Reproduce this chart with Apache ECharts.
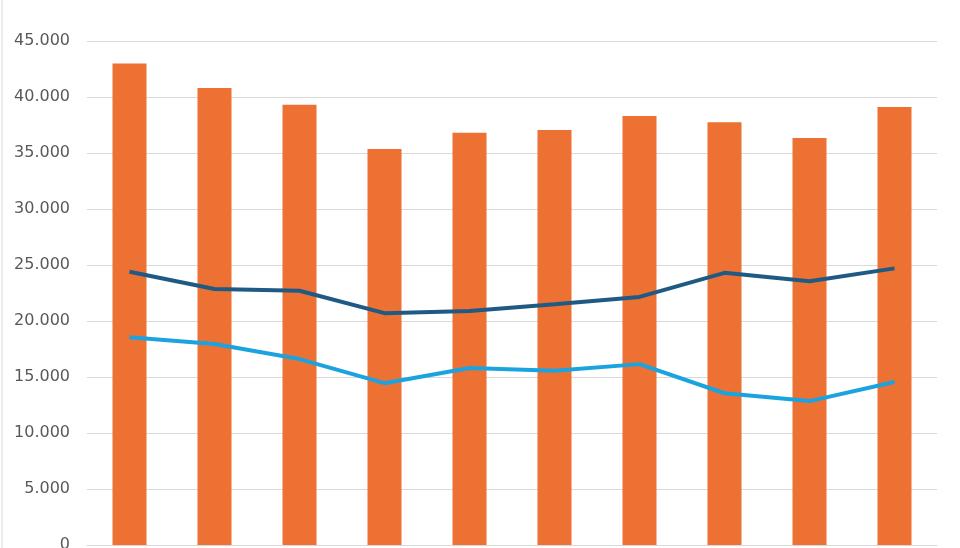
<!DOCTYPE html>
<html>
<head>
<meta charset="utf-8">
<script src="https://cdn.jsdelivr.net/npm/echarts@6/dist/echarts.min.js"></script>
<style>
  html, body { margin: 0; padding: 0; background: #fff; }
  #chart { width: 960px; height: 548px; }
</style>
</head>
<body>
<div id="chart"></div>
<script>
// categories (x labels are cut off in the reference)
const categories = ["1", "2", "3", "4", "5", "6", "7", "8", "9", "10"];
// bar values
const barValues = [43000, 40800, 39300, 35350, 36800, 37050, 38300, 37750, 36350, 39100];
// dark blue line
const darkLine = [24400, 22850, 22700, 20700, 20900, 21500, 22150, 24300, 23550, 24700];
// light blue line
const lightLine = [18550, 17950, 16600, 14450, 15800, 15550, 16150, 13550, 12850, 14550];
// y ticks
const yMin = 0;
const yMax = 45000;
const yStep = 5000;

const chart = echarts.init(document.getElementById("chart"));

const fmt = (v) => v === 0 ? "0" : v.toLocaleString("de-DE");

chart.setOption({
  animation: false,
  grid: { left: 87, right: 23, top: 41, bottom: 3, containLabel: false, outerBoundsMode: "none" },
  graphic: [
    {
      type: "line",
      shape: { x1: 2, y1: 0, x2: 2, y2: 548 },
      style: { stroke: "#d9d9d9", lineWidth: 1 }
    }
  ],
  xAxis: {
    type: "category",
    data: categories,
    axisLine: { show: true, lineStyle: { color: "#d9d9d9" } },
    axisTick: { show: false },
    axisLabel: { show: false }
  },
  yAxis: {
    type: "value",
    min: yMin,
    max: yMax,
    interval: yStep,
    axisLine: { show: false },
    axisTick: { show: false },
    axisLabel: {
      formatter: fmt,
      color: "#595959",
      fontSize: 16,
      fontFamily: "DejaVu Sans",
      margin: 17
    },
    splitLine: { lineStyle: { color: "#d9d9d9", width: 1 } }
  },
  series: [
    {
      type: "bar",
      data: barValues,
      barWidth: "40%",
      itemStyle: { color: "#ED7132" }
    },
    {
      type: "line",
      data: darkLine,
      symbol: "none",
      lineStyle: { color: "#1F5A85", width: 4 }
    },
    {
      type: "line",
      data: lightLine,
      symbol: "none",
      lineStyle: { color: "#1BA3E0", width: 4 }
    }
  ]
});
</script>
</body>
</html>
